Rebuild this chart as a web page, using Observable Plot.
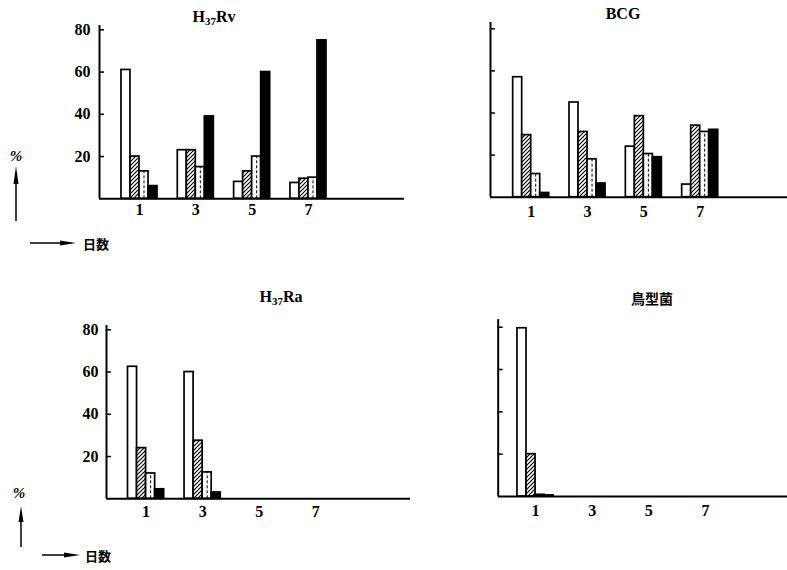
<!DOCTYPE html>
<html><head><meta charset="utf-8">
<script src="https://cdn.jsdelivr.net/npm/d3@7"></script>
<script src="https://cdn.jsdelivr.net/npm/@observablehq/plot@0.6"></script>
<style>
body{margin:0;background:#fff;}
#page{position:relative;width:787px;height:570px;overflow:hidden;background:#fff;font-family:"Liberation Serif",serif;color:#000;}
.panel{position:absolute;}
.title{position:absolute;font-weight:bold;font-size:16px;transform:translate(-50%,-50%);white-space:nowrap;line-height:1;color:#000;}
.title sub{font-size:11px;vertical-align:-3px;line-height:0;}
.cjk{font-family:"Noto Sans CJK JP","Noto Sans CJK SC",sans-serif;font-weight:bold;}
.note{position:absolute;font-weight:bold;font-size:15px;transform:translate(-50%,-50%);white-space:nowrap;line-height:1;color:#000;}
#overlay{position:absolute;left:0;top:0;pointer-events:none;}
</style>
</head><body>
<div id="page">
  <div class="title" style="left:214px;top:17px">H<sub>37</sub>Rv</div>
  <div class="title" style="left:623px;top:14px">BCG</div>
  <div class="title" style="left:281px;top:297px">H<sub>37</sub>Ra</div>
  <div class="title cjk" style="left:652px;top:298px;font-size:14px">鳥型菌</div>
  <div class="note" style="left:16px;top:156px;font-style:italic">%</div>
  <div class="note cjk" style="left:96px;top:243px;font-size:13px">日数</div>
  <div class="note" style="left:19px;top:493px;font-style:italic">%</div>
  <div class="note cjk" style="left:98px;top:555px;font-size:13px">日数</div>
  <svg id="overlay" width="787" height="570">
    <line x1="16" y1="221" x2="16" y2="180" stroke="black" stroke-width="1.5"/>
    <polygon points="16,166 13.5,184 18.5,184" fill="black"/>
    <line x1="30" y1="243" x2="62" y2="243" stroke="black" stroke-width="1.5"/>
    <polygon points="76,243 60,240.5 60,245.5" fill="black"/>
    <line x1="21" y1="547" x2="21" y2="518" stroke="black" stroke-width="1.5"/>
    <polygon points="21,506 18.5,522 23.5,522" fill="black"/>
    <line x1="42" y1="555" x2="66" y2="555" stroke="black" stroke-width="1.5"/>
    <polygon points="80,555 64,552.5 64,557.5" fill="black"/>
  </svg>
</div>
<script>
// ---- data ----
const days = [1, 3, 5, 7];
const seriesNames = ["white", "hatched", "dotted", "black"];
const h37rvWhite   = [61, 23, 8, 7.5];
const h37rvHatched = [20, 23, 13, 9.5];
const h37rvDotted  = [13, 15, 20, 10];
const h37rvBlack   = [6, 39, 60, 75];
const bcgWhite   = [57, 45, 24, 6];
const bcgHatched = [29.5, 31, 38.5, 34];
const bcgDotted  = [11, 18, 20.5, 31];
const bcgBlack   = [2, 6.5, 19, 32];
const h37raWhite   = [62.5, 60, 0, 0];
const h37raHatched = [24, 27.5, 0, 0];
const h37raDotted  = [12, 12.5, 0, 0];
const h37raBlack   = [4.5, 3, 0, 0];
const avianWhite   = [79.5, 0, 0, 0];
const avianHatched = [20, 0, 0, 0];
const avianDotted  = [0.8, 0, 0, 0];
const avianBlack   = [0.5, 0, 0, 0];
const yTicks = [20, 40, 60, 80];

// ---- layout ----
const panels = [
  {id:"rv", left:0, top:0, width:410, height:225, mt:29.3, mb:26.7, ml:99, mr:6, xd:[-0.42,10.41], yTop:82, labels:true, tickPad:14, xPad:6,
   vals:[h37rvWhite,h37rvHatched,h37rvDotted,h37rvBlack]},
  {id:"bcg", left:400, top:0, width:387, height:225, mt:28.3, mb:28.3, ml:90, mr:0, xd:[-0.445,10.1], yTop:83, labels:false, tickPad:14, xPad:9,
   vals:[bcgWhite,bcgHatched,bcgDotted,bcgBlack]},
  {id:"ra", left:0, top:280, width:410, height:250, mt:49.3, mb:31.7, ml:106, mr:0, xd:[-0.4,10.35], yTop:82, labels:true, tickPad:13, xPad:8,
   vals:[h37raWhite,h37raHatched,h37raDotted,h37raBlack]},
  {id:"av", left:400, top:280, width:387, height:250, mt:46.7, mb:34, ml:97.7, mr:0, xd:[-0.32,9.9], yTop:83.6, labels:false, tickPad:14, xPad:9,
   vals:[avianWhite,avianHatched,avianDotted,avianBlack]}
];

const BW = 0.32;
function rowsOf(vals){
  return days.flatMap((d,j)=>seriesNames.map((s,i)=>({day:d, series:s, k:i, value:vals[i][j]}))).filter(r=>r.value>0);
}
function chart(p){
  const rows = rowsOf(p.vals);
  const pid = "hatch-" + p.id;
  const defs = () => {
    const d = d3.create("svg:defs");
    const pat = d.append("pattern").attr("id", pid).attr("patternUnits","userSpaceOnUse").attr("width",4).attr("height",4);
    pat.append("rect").attr("width",4).attr("height",4).attr("fill","white");
    pat.append("path").attr("d","M-1,1 l2,-2 M0,4 l4,-4 M3,5 l2,-2").attr("stroke","black").attr("stroke-width",1.1);
    return d.node();
  };
  const x1 = r => r.day + (r.k - 2) * BW;
  const x2 = r => r.day + (r.k - 1) * BW;
  const fills = ["white", `url(#${pid})`, "white", "black"];
  return Plot.plot({
    width: p.width, height: p.height,
    marginTop: p.mt, marginBottom: p.mb, marginLeft: p.ml, marginRight: p.mr,
    x: {type: "linear", domain: p.xd},
    y: {domain: [0, 80]},
    style: {fontFamily: "Liberation Serif, serif", fontSize: "16px", fontWeight: "bold", background: "transparent", overflow: "visible", color: "black"},
    marks: [
      defs,
      ...[0,1,2,3].map(k => Plot.rectY(rows.filter(r => r.k === k), {x1, x2, y1: 0, y2: "value", fill: fills[k], stroke: "black", strokeWidth: 1.7})),
      Plot.ruleX(rows.filter(r => r.k === 2), {x: r => r.day + 0.5 * BW, y1: 0, y2: "value", stroke: "black", strokeWidth: 1, strokeDasharray: "3,2"}),
      Plot.ruleY([0], {stroke: "black", strokeWidth: 2}),
      Plot.ruleX([p.xd[0]], {y1: 0, y2: p.yTop, stroke: "black", strokeWidth: 2}),
      Plot.axisY({ticks: yTicks, tickSize: -5, tickPadding: p.tickPad, strokeWidth: 1.5, label: null,
                  tickFormat: p.labels ? (d => String(d)) : (() => "")}),
      Plot.axisX({ticks: days, tickSize: 0, tickPadding: p.xPad - 1, label: null, tickFormat: d => String(d)})
    ]
  });
}
const page = document.getElementById("page");
for (const p of panels) {
  const el = chart(p);
  el.classList.add("panel");
  el.style.left = p.left + "px";
  el.style.top = p.top + "px";
  page.insertBefore(el, document.getElementById("overlay"));
}
</script>
</body></html>
